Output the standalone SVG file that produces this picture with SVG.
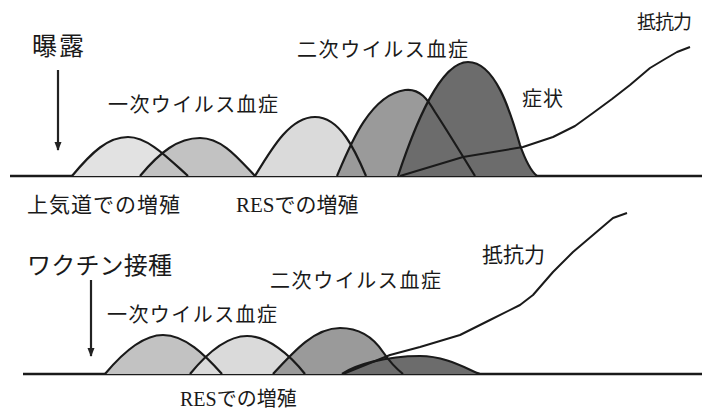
<svg xmlns="http://www.w3.org/2000/svg" width="702" height="413" viewBox="0 0 702 413">
<defs>
<marker id="ah" viewBox="0 0 10 10" refX="9" refY="5" markerWidth="4" markerHeight="4" orient="auto" markerUnits="strokeWidth">
<path d="M0,1 L10,5 L0,9 Z" fill="#222"/>
</marker>
</defs>
<style>
.t{font-family:"Noto Sans CJK JP","Noto Sans",sans-serif;fill:#1a1a1a}
.r{font-family:"Liberation Serif",serif}
.base{stroke:#1a1a1a;stroke-width:2.5;fill:none}
.out{stroke:#1a1a1a;stroke-width:2.2;fill:none;stroke-linejoin:round}
.res{stroke:#1a1a1a;stroke-width:2;fill:none;stroke-linejoin:round}
.arr{stroke:#222;stroke-width:2.2;fill:none}
.l1{fill:#e2e2e2}.l2{fill:#c2c2c2}.l3{fill:#dadada}.l4{fill:#9a9a9a}.l5{fill:#6c6c6c}
</style>
<rect width="702" height="413" fill="#fff"/>

<g id="top-panel">
<line class="base" x1="10" y1="176" x2="702" y2="176"/>
<g id="hump-upper-airway-1"><path class="l1" d="M72,176 C92,152 108,137 128,137 C148,137 168,158 188,176 Z"/></g>
<g id="hump-upper-airway-2"><path class="l2" d="M140,176 C160,152 178,138 200,138 C222,138 238,158 255,176 Z"/></g>
<g id="hump-res"><path class="l3" d="M255,176 C272,148 290,117 315,117 C340,117 355,150 366,176 Z"/></g>
<g id="hump-secondary"><path class="l4" d="M337,176 C350,145 370,95 405,90 C420,88 428,100 435,112 C450,135 465,160 475,176 Z"/></g>
<g id="hump-symptoms"><path class="l5" d="M398,176 C415,125 440,62 468,62 C495,62 510,110 520,145 C526,162 532,172 537,176 Z"/></g>
<path class="out" d="M72,176 C92,152 108,137 128,137 C148,137 168,158 188,176"/>
<path class="out" d="M140,176 C160,152 178,138 200,138 C222,138 238,158 255,176"/>
<path class="out" d="M255,176 C272,148 290,117 315,117 C340,117 355,150 366,176"/>
<path class="out" d="M337,176 C350,145 370,95 405,90 C420,88 428,100 435,112 C450,135 465,160 475,176"/>
<path class="out" d="M398,176 C415,125 440,62 468,62 C495,62 510,110 520,145 C526,162 532,172 537,176"/>
<g id="resistance-top"><path class="res" d="M400,176 L463,157 L523,147 L553,137 L575,126 L593,113 L612,99 L630,85 L650,68 L665,59 L677,52 L690,47"/></g>
</g>

<g id="bottom-panel">
<line class="base" x1="23" y1="374" x2="702" y2="374"/>
<g id="hump-b-primary-1"><path class="l2" d="M105,374 C125,350 145,335 163,335 C185,335 205,355 222,374 Z"/></g>
<g id="hump-b-primary-2"><path class="l3" d="M190,374 C208,352 228,336 247,336 C268,336 290,355 305,374 Z"/></g>
<g id="hump-b-secondary"><path class="l4" d="M273,374 C295,350 315,328 340,328 C362,328 375,340 383,352 C392,365 398,370 403,374 Z"/></g>
<g id="hump-b-symptoms"><path class="l5" d="M342,374 C355,365 385,356 420,356 C445,356 465,368 480,374 Z"/></g>
<path class="out" d="M105,374 C125,350 145,335 163,335 C185,335 205,355 222,374"/>
<path class="out" d="M190,374 C208,352 228,336 247,336 C268,336 290,355 305,374"/>
<path class="out" d="M273,374 C295,350 315,328 340,328 C362,328 375,340 383,352 C392,365 398,370 403,374"/>
<path class="out" d="M342,374 C355,365 385,356 420,356 C445,356 465,368 480,374"/>
<g id="resistance-bottom"><path class="res" d="M343,374 L390,355 L420,347 L460,335 L490,320 L520,305 L533,295 L553,272 L573,252 L593,235 L613,218 L627,213"/></g>
</g>

<g id="connectors">
<line class="arr" x1="58" y1="70" x2="58" y2="150" marker-end="url(#ah)"/>
<line class="arr" x1="91" y1="280" x2="91" y2="356" marker-end="url(#ah)"/>
</g>

<g id="labels-top">
<text class="t" x="32" y="55" font-size="25" textLength="52">曝露</text>
<text class="t" x="108" y="112" font-size="20" textLength="170">一次ウイルス血症</text>
<text class="t" x="297" y="57" font-size="20" textLength="171">二次ウイルス血症</text>
<text class="t" x="522" y="106" font-size="20" textLength="41">症状</text>
<text class="t" x="637" y="29" font-size="19" textLength="55">抵抗力</text>
<text class="t" x="27" y="212" font-size="21" textLength="153">上気道での増殖</text>
<text class="t" x="236" y="212" font-size="21"><tspan class="r">RES</tspan>での増殖</text>
</g>

<g id="labels-bottom">
<text class="t" x="27" y="274" font-size="24" textLength="145">ワクチン接種</text>
<text class="t" x="107" y="322" font-size="20" textLength="170">一次ウイルス血症</text>
<text class="t" x="270" y="288" font-size="20" textLength="171">二次ウイルス血症</text>
<text class="t" x="482" y="262" font-size="21" textLength="63">抵抗力</text>
<text class="t" x="180" y="406" font-size="20"><tspan class="r">RES</tspan>での増殖</text>
</g>
</svg>
